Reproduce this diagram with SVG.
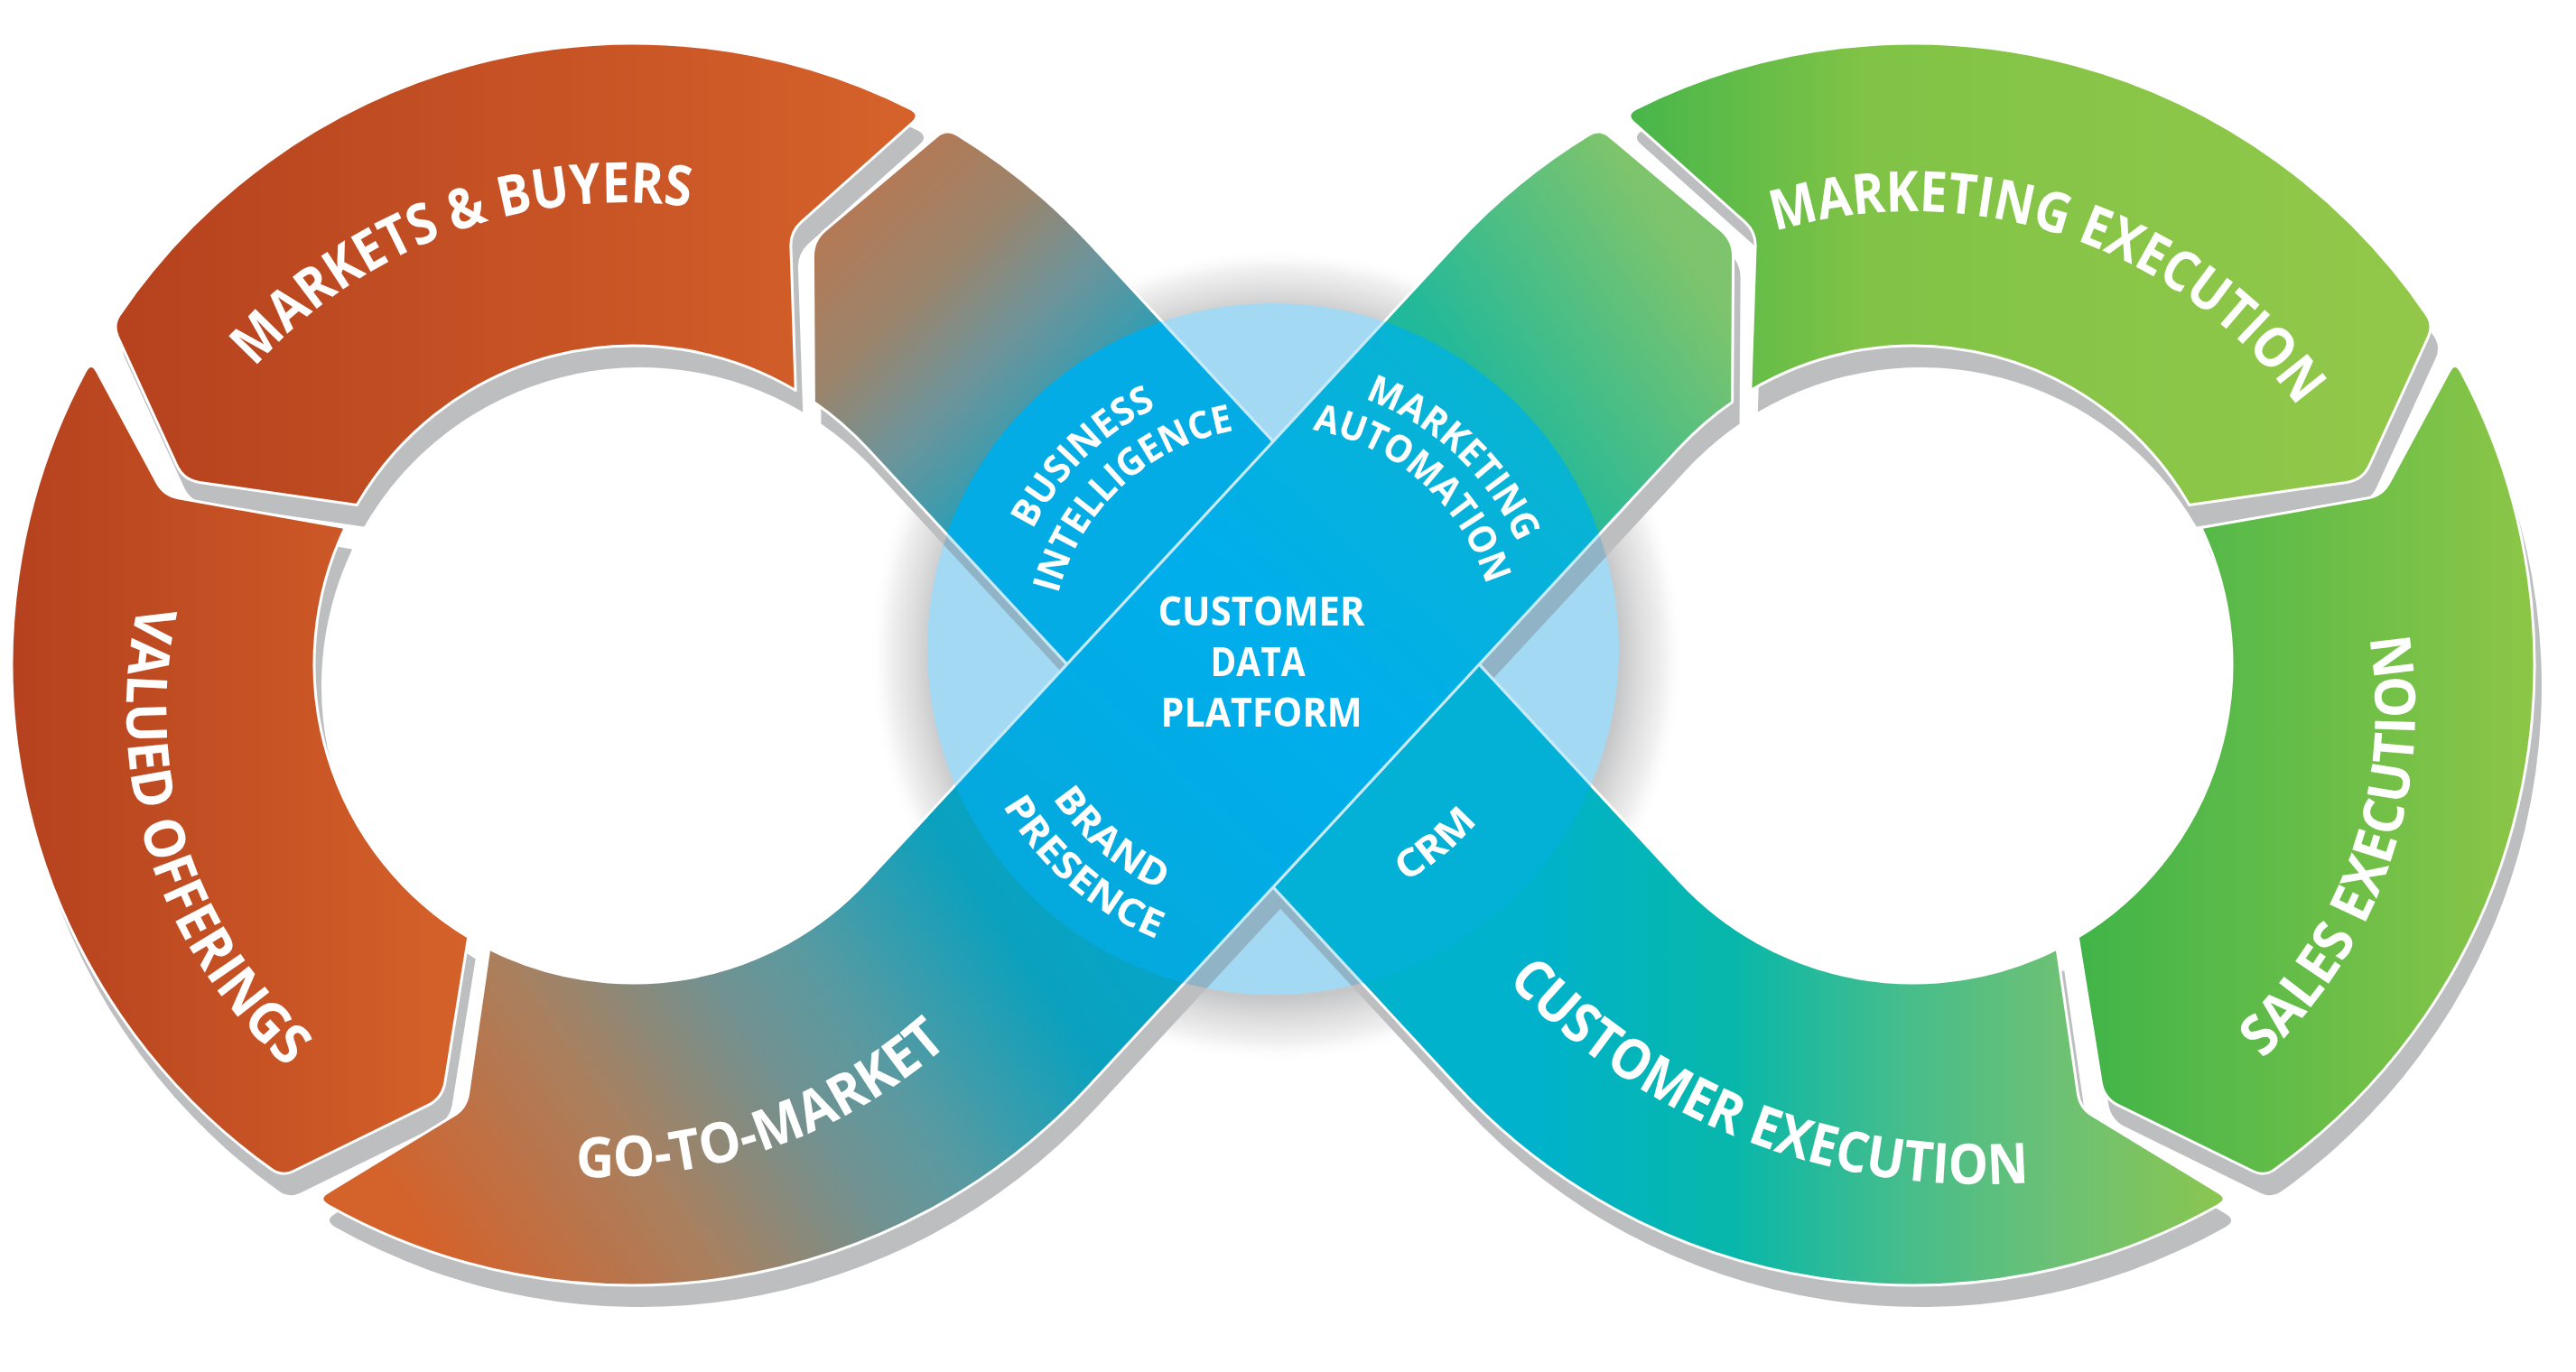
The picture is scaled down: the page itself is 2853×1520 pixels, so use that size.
<svg xmlns="http://www.w3.org/2000/svg" width="2853" height="1520" viewBox="0 0 2853 1520">
<style>
.lbl{font-family:'Open Sans','Liberation Sans',sans-serif;font-weight:700;fill:#ffffff;}
.ring{font-size:62px;}
.mid{font-size:42px;}
.seg{stroke:#ffffff;stroke-width:3;stroke-linejoin:round;}
.ov{stroke:#c4e9f8;stroke-width:3;stroke-linejoin:round;}
</style>
<defs>
<radialGradient id="glow" cx="1414" cy="726" r="452" gradientUnits="userSpaceOnUse">
<stop offset="0.84" stop-color="#c6c7c8"/>
<stop offset="0.89" stop-color="#dcdcdd"/>
<stop offset="0.95" stop-color="#f1f1f1"/>
<stop offset="1" stop-color="#ffffff" stop-opacity="0"/>
</radialGradient>
<linearGradient id="gMarkets" x1="110" y1="0" x2="1030" y2="0" gradientUnits="userSpaceOnUse">
<stop offset="0" stop-color="#b5411e"/><stop offset="1" stop-color="#d6622b"/>
</linearGradient>
<linearGradient id="gValued" x1="0" y1="0" x2="530" y2="0" gradientUnits="userSpaceOnUse">
<stop offset="0" stop-color="#b4401e"/><stop offset="1" stop-color="#d6622a"/>
</linearGradient>
<linearGradient id="gGTM" x1="420" y1="1300" x2="1880" y2="300" gradientUnits="userSpaceOnUse">
<stop offset="0" stop-color="#d4622b"/>
<stop offset="0.14" stop-color="#a9805f"/>
<stop offset="0.24" stop-color="#729190"/>
<stop offset="0.3" stop-color="#589aa1"/>
<stop offset="0.41" stop-color="#0aa1be"/>
<stop offset="0.55" stop-color="#03a8d2"/>
<stop offset="0.7" stop-color="#06b4b2"/>
<stop offset="0.84" stop-color="#22b99a"/>
<stop offset="1" stop-color="#7dc46c"/>
</linearGradient>
<linearGradient id="gGTMin" x1="1140" y1="1010" x2="1680" y2="430" gradientUnits="userSpaceOnUse">
<stop offset="0" stop-color="#04a9dc"/><stop offset="0.5" stop-color="#00aeec"/><stop offset="1" stop-color="#09b4d0"/>
</linearGradient>
<linearGradient id="gBI" x1="1000" y1="160" x2="1330" y2="500" gradientUnits="userSpaceOnUse">
<stop offset="0.04" stop-color="#b27a57"/>
<stop offset="0.28" stop-color="#9a846c"/>
<stop offset="0.5" stop-color="#6e949a"/>
<stop offset="0.78" stop-color="#21a0b8"/>
<stop offset="1" stop-color="#08a2c4"/>
</linearGradient>
<linearGradient id="gCust" x1="1700" y1="0" x2="2480" y2="0" gradientUnits="userSpaceOnUse">
<stop offset="0" stop-color="#00b2cb"/>
<stop offset="0.28" stop-color="#07b7aa"/>
<stop offset="0.52" stop-color="#45bd8c"/>
<stop offset="0.74" stop-color="#6cc175"/>
<stop offset="1" stop-color="#8dc64c"/>
</linearGradient>
<linearGradient id="gMktExec" x1="1790" y1="0" x2="2700" y2="0" gradientUnits="userSpaceOnUse">
<stop offset="0" stop-color="#44b54a"/><stop offset="0.3" stop-color="#80c346"/><stop offset="1" stop-color="#93c84a"/>
</linearGradient>
<linearGradient id="gSales" x1="2300" y1="0" x2="2810" y2="0" gradientUnits="userSpaceOnUse">
<stop offset="0" stop-color="#40b449"/><stop offset="1" stop-color="#8dc647"/>
</linearGradient>
<clipPath id="inC"><circle cx="1410" cy="719" r="383"/></clipPath>
<clipPath id="outC"><path clip-rule="evenodd" d="M0 0H2853V1520H0Z M1027 719A383 383 0 1 0 1793 719A383 383 0 1 0 1027 719Z"/></clipPath>
<path id="pMarkets" d="M221 534.4Q203.2 531.8 195.7 515.4L130.5 373Q124.7 360.3 132.3 348.8A688 688 0 0 1 1008.3 120.4Q1020.8 126.8 1010.4 136.1L887.3 246.1Q875.4 256.8 875.9 272.8L881.2 432.5A353 353 0 0 0 395.3 559.5Z"/>
<path id="pValued" d="M492.9 1198.9Q490 1216.7 473.8 1224.6L324.9 1297.5Q312.3 1303.7 300.8 1295.6A688 688 0 0 1 94.3 411.6Q101 399.3 107.6 411.6L174 534.9Q181.6 549 197.4 551.8L382.1 584.6A353 353 0 0 0 518.7 1038.3Z"/>
<path id="pGTM" d="M362.8 1320.9L502.6 1235.8Q516.3 1227.5 518.6 1211.7L541.8 1051.1A353 353 0 0 0 960.1 975.7L1613.9 268.8A688 688 0 0 1 1759.9 149.2Q1771.9 142 1782.6 151L1905.9 254.9Q1919.7 266.5 1919.6 284.5L1918.6 445.4A353 353 0 0 0 1859.9 496.3L1206.1 1203.2A688 688 0 0 1 362.9 1335.2Q350.8 1328.2 362.8 1320.9Z"/>
<path id="pBI" d="M900.4 284.5Q900.3 266.5 914.1 254.9L1037.4 151Q1048.1 142 1060.1 149.2A688 688 0 0 1 1206.1 268.8L1524.1 612.7L1295.9 859.3L960.1 496.3A353 353 0 0 0 901.4 445.4Z"/>
<path id="pCust" d="M1524.1 612.7L1859.9 975.7A353 353 0 0 0 2278.2 1051.1L2301.4 1211.7Q2303.7 1227.5 2317.4 1235.8L2457.2 1320.9Q2469.2 1328.2 2457.1 1335.2A688 688 0 0 1 1613.9 1203.2L1295.9 859.3Z"/>
<path id="pMktExec" d="M1811.7 120.4A688 688 0 0 1 2687.7 348.8Q2695.3 360.3 2689.5 373L2624.3 515.4Q2616.8 531.8 2599 534.4L2424.7 559.5A353 353 0 0 0 1938.8 432.5L1944.1 272.8Q1944.6 256.8 1932.7 246.1L1809.6 136.1Q1799.2 126.8 1811.7 120.4Z"/>
<path id="pSales" d="M2712.4 411.6Q2719 399.3 2725.7 411.6A688 688 0 0 1 2519.2 1295.6Q2507.7 1303.7 2495.1 1297.5L2346.2 1224.6Q2330 1216.7 2327.1 1198.9L2301.3 1038.3A353 353 0 0 0 2437.9 584.6L2622.6 551.8Q2638.4 549 2646 534.9Z"/>
<path id="tpMarkets" d="M151.8 868.3A547 547 0 0 1 1162.5 495.4"/>
<path id="tpValued" d="M420.9 320.4A528 528 0 0 0 740.5 1310"/>
<path id="tpGTM" d="M157 1009.5A582 582 0 0 0 1236.9 624.9"/>
<path id="tpMktExec" d="M1653.3 510.2A529 529 0 0 1 2641.1 841.7"/>
<path id="tpSales" d="M2068.3 1305.6A525 525 0 0 0 2404.1 327.6"/>
<path id="tpCust" d="M1484.5 451A722 722 0 0 0 2811.2 962.9"/>
<path id="tpBusiness" d="M1165.8 888.1A297 297 0 0 1 1581.6 476.6"/>
<path id="tpIntel" d="M1203.5 852.6A246 246 0 0 1 1558.4 522.8"/>
<path id="tpMarketing" d="M1233.7 482.5A295 295 0 0 1 1656.6 881"/>
<path id="tpAutomation" d="M1256.9 525.2A247 247 0 0 1 1620.1 848.8"/>
<path id="tpBrand" d="M1155.8 569.3A295 295 0 0 0 1597.6 946.6"/>
<path id="tpPresence" d="M1113.1 541.3A346 346 0 0 0 1628.2 987.5"/>
<path id="tpCRM" d="M1218.5 944.8A296 296 0 0 0 1667.1 572.3"/>
</defs>
<rect width="2853" height="1520" fill="#ffffff"/>

<g id="cdp-hub">
<circle cx="1414" cy="726" r="452" fill="url(#glow)"/>
<circle cx="1410" cy="719" r="383" fill="#a4d9f3"/>
</g>

<g id="shadows">
<g clip-path="url(#outC)" fill="#bcbec0">
<use href="#pMarkets" transform="translate(8,24)"/>
<use href="#pValued" transform="translate(8,24)"/>
<use href="#pMktExec" transform="translate(8,24)"/>
<use href="#pSales" transform="translate(8,24)"/>
<use href="#pBI" transform="translate(8,24)"/>
<use href="#pCust" transform="translate(8,24)"/>
<use href="#pGTM" transform="translate(8,24)"/>
</g>
<g clip-path="url(#inC)" fill="#6d6e71" opacity="0.35">
<use href="#pBI" transform="translate(8,24)"/>
<use href="#pCust" transform="translate(8,24)"/>
<use href="#pGTM" transform="translate(8,24)"/>
</g>
</g>

<g id="business-intelligence">
<use href="#pBI" class="seg" fill="url(#gBI)"/>
<use href="#pBI" class="ov" fill="#03ace5" clip-path="url(#inC)"/>
<text class="lbl mid"><textPath href="#tpBusiness" startOffset="50%" text-anchor="middle" textLength="196" lengthAdjust="spacingAndGlyphs">BUSINESS</textPath></text>
<text class="lbl mid"><textPath href="#tpIntel" startOffset="50%" text-anchor="middle" textLength="281" lengthAdjust="spacingAndGlyphs">INTELLIGENCE</textPath></text>
</g>

<g id="customer-execution">
<use href="#pCust" class="seg" fill="url(#gCust)"/>
<use href="#pCust" class="ov" fill="#03b0d6" clip-path="url(#inC)"/>
<text class="lbl ring"><textPath href="#tpCust" startOffset="50%" text-anchor="middle" textLength="640" lengthAdjust="spacingAndGlyphs">CUSTOMER EXECUTION</textPath></text>
</g>

<g id="go-to-market">
<use href="#pGTM" class="seg" fill="url(#gGTM)"/>
<use href="#pGTM" class="ov" fill="url(#gGTMin)" clip-path="url(#inC)"/>
<text class="lbl ring"><textPath href="#tpGTM" startOffset="50%" text-anchor="middle" textLength="449" lengthAdjust="spacingAndGlyphs">GO-TO-MARKET</textPath></text>
</g>

<g id="markets-buyers">
<use href="#pMarkets" class="seg" fill="url(#gMarkets)"/>
<text class="lbl ring"><textPath href="#tpMarkets" startOffset="50%" text-anchor="middle" textLength="535" lengthAdjust="spacingAndGlyphs">MARKETS &amp; BUYERS</textPath></text>
</g>

<g id="valued-offerings">
<use href="#pValued" class="seg" fill="url(#gValued)"/>
<text class="lbl ring"><textPath href="#tpValued" startOffset="50%" text-anchor="middle" textLength="566" lengthAdjust="spacingAndGlyphs">VALUED OFFERINGS</textPath></text>
</g>

<g id="marketing-execution">
<use href="#pMktExec" class="seg" fill="url(#gMktExec)"/>
<text class="lbl ring"><textPath href="#tpMktExec" startOffset="50%" text-anchor="middle" textLength="651" lengthAdjust="spacingAndGlyphs">MARKETING EXECUTION</textPath></text>
</g>

<g id="sales-execution">
<use href="#pSales" class="seg" fill="url(#gSales)"/>
<text class="lbl ring"><textPath href="#tpSales" startOffset="50%" text-anchor="middle" textLength="520" lengthAdjust="spacingAndGlyphs">SALES EXECUTION</textPath></text>
</g>

<g id="marketing-automation">
<text class="lbl mid"><textPath href="#tpMarketing" startOffset="50%" text-anchor="middle" textLength="239" lengthAdjust="spacingAndGlyphs">MARKETING</textPath></text>
<text class="lbl mid"><textPath href="#tpAutomation" startOffset="50%" text-anchor="middle" textLength="272" lengthAdjust="spacingAndGlyphs">AUTOMATION</textPath></text>
</g>

<g id="brand-presence">
<text class="lbl mid"><textPath href="#tpBrand" startOffset="50%" text-anchor="middle" textLength="159" lengthAdjust="spacingAndGlyphs">BRAND</textPath></text>
<text class="lbl mid"><textPath href="#tpPresence" startOffset="50%" text-anchor="middle" textLength="230" lengthAdjust="spacingAndGlyphs">PRESENCE</textPath></text>
</g>

<g id="crm">
<text class="lbl mid"><textPath href="#tpCRM" startOffset="50%" text-anchor="middle" textLength="105" lengthAdjust="spacingAndGlyphs">CRM</textPath></text>
</g>

<g id="cdp-label" class="lbl" font-size="44" text-anchor="middle">
<text x="1397" y="693" textLength="229" lengthAdjust="spacingAndGlyphs">CUSTOMER</text>
<text x="1393" y="749" textLength="105" lengthAdjust="spacingAndGlyphs">DATA</text>
<text x="1397" y="805" textLength="223" lengthAdjust="spacingAndGlyphs">PLATFORM</text>
</g>
</svg>
